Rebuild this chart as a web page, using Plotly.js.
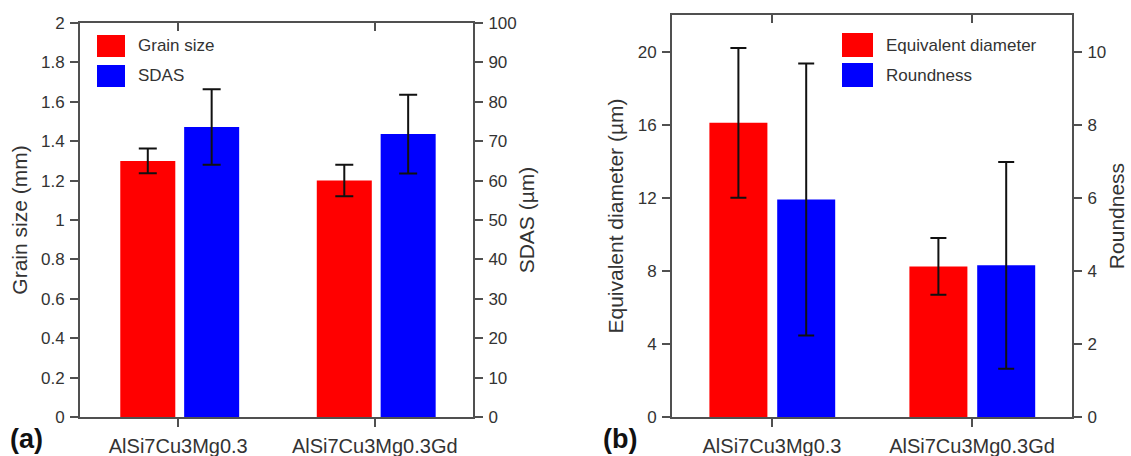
<!DOCTYPE html>
<html>
<head>
<meta charset="utf-8">
<script src="https://cdn.plot.ly/plotly-3.0.1.min.js"></script>
<style>
  html, body { margin: 0; padding: 0; background: #fff; }
  #chart { width: 1131px; height: 456px; }
</style>
</head>
<body>
<div id="chart"></div>
<script>
// ---- data ----
const categories = ['AlSi7Cu3Mg0.3', 'AlSi7Cu3Mg0.3Gd'];

// panel (a)
const grainSize = [1.30, 1.20];        // mm
const grainSizeErr = [0.063, 0.08];
const sdas = [73.6, 71.8];              // µm
const sdasErr = [9.6, 10.0];

// panel (b)
const eqDiameter = [16.1, 8.24];        // µm
const eqDiameterErr = [4.1, 1.55];
const roundness = [5.95, 4.15];
const roundnessErr = [3.72, 2.83];

const leftTicksA = [0, 0.2, 0.4, 0.6, 0.8, 1, 1.2, 1.4, 1.6, 1.8, 2];
const rightTicksA = [0, 10, 20, 30, 40, 50, 60, 70, 80, 90, 100];
const leftTicksB = [0, 4, 8, 12, 16, 20];
const rightTicksB = [0, 2, 4, 6, 8, 10];

const legendA = ['Grain size', 'SDAS'];
const legendB = ['Equivalent diameter', 'Roundness'];

// ---- styling ----
const W = 1131, H = 456;
const RED = '#ff0000', BLUE = '#0000ff';
const AX = '#505050';
const TXT = '#333333';
const FONT = 'Liberation Sans, Arial, sans-serif';
const px = v => v / W;
const py = v => 1 - v / H;

function errBar(arr, w) {
  return { type: 'data', array: arr, visible: true, color: '#111111', thickness: 2, width: w };
}

// right-axis series are drawn against a top category axis (x3 / x4), which also forms the top frame
const traces = [
  { type: 'bar', x: categories, y: grainSize, xaxis: 'x', yaxis: 'y',
    marker: { color: RED, line: { width: 0 } }, width: 0.28, offset: -0.295,
    error_y: errBar(grainSizeErr, 9), name: legendA[0], showlegend: false },
  { type: 'bar', x: categories, y: sdas, xaxis: 'x3', yaxis: 'y2',
    marker: { color: BLUE, line: { width: 0 } }, width: 0.28, offset: 0.03,
    error_y: errBar(sdasErr, 9), name: legendA[1], showlegend: false },
  { type: 'bar', x: categories, y: eqDiameter, xaxis: 'x2', yaxis: 'y3',
    marker: { color: RED, line: { width: 0 } }, width: 0.29, offset: -0.313,
    error_y: errBar(eqDiameterErr, 8), name: legendB[0], showlegend: false },
  { type: 'bar', x: categories, y: roundness, xaxis: 'x4', yaxis: 'y4',
    marker: { color: BLUE, line: { width: 0 } }, width: 0.29, offset: 0.026,
    error_y: errBar(roundnessErr, 8), name: legendB[1], showlegend: false }
];

const tickFontY = { family: FONT, size: 17, color: TXT };
const tickFontX = { family: FONT, size: 20, color: TXT };
const titleFont = { family: FONT, size: 21, color: TXT };

const baseX = {
  type: 'category', range: [-0.5, 1.5], showline: true, linecolor: AX, linewidth: 2,
  ticks: 'outside', ticklen: 8, tickwidth: 2, tickcolor: AX, tickfont: tickFontX,
  showgrid: false, zeroline: false, fixedrange: true, ticklabelstandoff: 2
};
const topX = {
  type: 'category', range: [-0.5, 1.5], side: 'top', showline: true, linecolor: AX, linewidth: 2,
  ticks: 'inside', ticklen: 8, tickwidth: 2, tickcolor: AX, showticklabels: false,
  showgrid: false, zeroline: false, fixedrange: true
};
const baseY = {
  showline: true, linecolor: AX, linewidth: 2, ticks: 'outside', ticklen: 8, tickwidth: 2,
  tickcolor: AX, tickfont: tickFontY, showgrid: false, zeroline: false, ticklabelstandoff: 2,
  fixedrange: true
};

const domA = [px(80), px(473)];
const domB = [px(672), px(1072)];
const domYA = [py(417), py(23)];
const domYB = [py(417), py(15)];

const layout = {
  width: W, height: H,
  margin: { l: 0, r: 0, t: 0, b: 0, pad: 0 },
  paper_bgcolor: '#ffffff', plot_bgcolor: 'rgba(0,0,0,0)',
  showlegend: false,
  font: { family: FONT, color: TXT },
  xaxis: Object.assign({}, baseX, { domain: domA, anchor: 'y' }),
  xaxis2: Object.assign({}, baseX, { domain: domB, anchor: 'y3' }),
  xaxis3: Object.assign({}, topX, { domain: domA, anchor: 'y2', overlaying: 'x' }),
  xaxis4: Object.assign({}, topX, { domain: domB, anchor: 'y4', overlaying: 'x2' }),
  yaxis: Object.assign({}, baseY, {
    domain: domYA, anchor: 'x', range: [0, 2], tickvals: leftTicksA,
    title: { text: 'Grain size (mm)', font: titleFont, standoff: 8 }
  }),
  yaxis2: Object.assign({}, baseY, {
    domain: domYA, anchor: 'x3', overlaying: 'y', side: 'right', range: [0, 100], tickvals: rightTicksA,
    title: { text: 'SDAS (µm)', font: titleFont, standoff: 4 }
  }),
  yaxis3: Object.assign({}, baseY, {
    domain: domYB, anchor: 'x2', range: [0, 22], tickvals: leftTicksB,
    title: { text: 'Equivalent diameter (µm)', font: titleFont, standoff: 8 }
  }),
  yaxis4: Object.assign({}, baseY, {
    domain: domYB, anchor: 'x4', overlaying: 'y3', side: 'right', range: [0, 11], tickvals: rightTicksB,
    title: { text: 'Roundness', font: titleFont, standoff: 4 }
  }),
  shapes: [
    { type: 'rect', xref: 'paper', yref: 'paper', x0: px(97), x1: px(125), y0: py(57), y1: py(35), fillcolor: RED, line: { width: 0 } },
    { type: 'rect', xref: 'paper', yref: 'paper', x0: px(97), x1: px(125), y0: py(87), y1: py(65), fillcolor: BLUE, line: { width: 0 } },
    { type: 'rect', xref: 'paper', yref: 'paper', x0: px(842), x1: px(873), y0: py(57), y1: py(33), fillcolor: RED, line: { width: 0 } },
    { type: 'rect', xref: 'paper', yref: 'paper', x0: px(842), x1: px(873), y0: py(87), y1: py(63), fillcolor: BLUE, line: { width: 0 } }
  ],
  annotations: [
    { xref: 'paper', yref: 'paper', x: px(136), y: py(46), xanchor: 'left', yanchor: 'middle', showarrow: false, text: legendA[0], font: { family: FONT, size: 17, color: TXT } },
    { xref: 'paper', yref: 'paper', x: px(136), y: py(76), xanchor: 'left', yanchor: 'middle', showarrow: false, text: legendA[1], font: { family: FONT, size: 17, color: TXT } },
    { xref: 'paper', yref: 'paper', x: px(884), y: py(45), xanchor: 'left', yanchor: 'middle', showarrow: false, text: legendB[0], font: { family: FONT, size: 17, color: TXT } },
    { xref: 'paper', yref: 'paper', x: px(884), y: py(75), xanchor: 'left', yanchor: 'middle', showarrow: false, text: legendB[1], font: { family: FONT, size: 17, color: TXT } },
    { xref: 'paper', yref: 'paper', x: px(8), y: py(439), xanchor: 'left', yanchor: 'middle', showarrow: false, text: '<b>(a)</b>', font: { family: FONT, size: 27, color: '#111' } },
    { xref: 'paper', yref: 'paper', x: px(601), y: py(439), xanchor: 'left', yanchor: 'middle', showarrow: false, text: '<b>(b)</b>', font: { family: FONT, size: 27, color: '#111' } }
  ]
};

Plotly.newPlot('chart', traces, layout, { staticPlot: true, displayModeBar: false });
</script>
</body>
</html>
